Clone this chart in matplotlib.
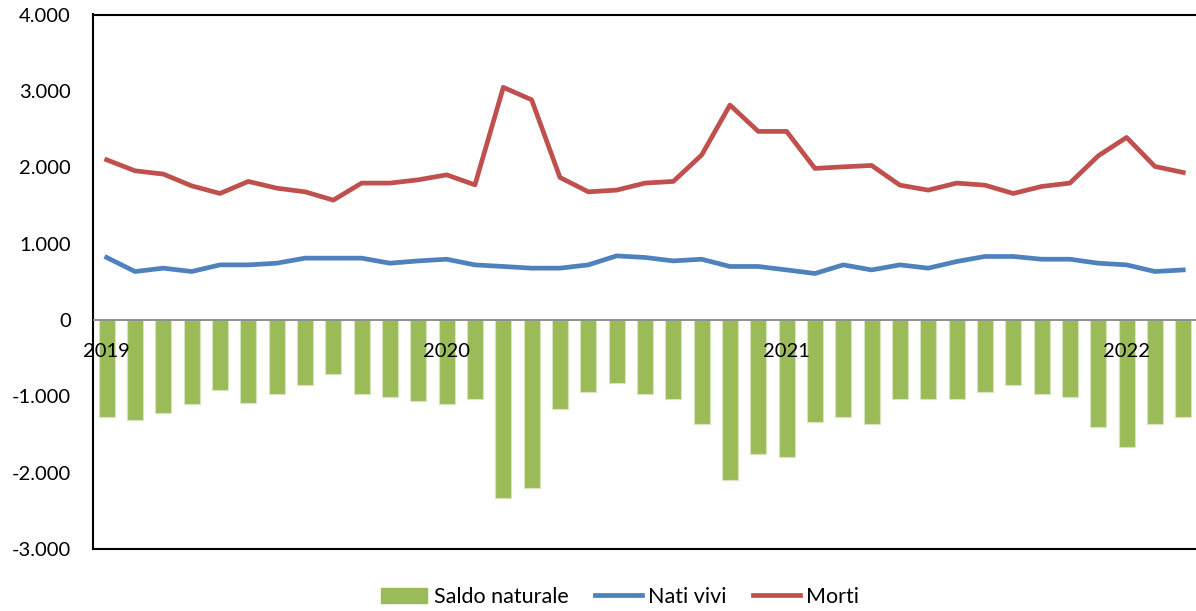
import matplotlib
matplotlib.use("Agg")
import matplotlib.pyplot as plt
import numpy as np
from matplotlib.lines import Line2D
from matplotlib.patches import Patch

plt.rcParams['font.family'] = ['Lato', 'DejaVu Sans']

months = list(range(39))  # Jan 2019 .. Mar 2022
year_labels = {0: "2019", 12: "2020", 24: "2021", 36: "2022"}

saldo_naturale = [-1266, -1311, -1219, -1105, -917, -1083, -965, -852, -708, -965,
                  -1009, -1057, -1105, -1030, -2333, -2197, -1170, -939, -821, -965,
                  -1030, -1358, -2101, -1751, -1799, -1337, -1266, -1358, -1030, -1030,
                  -1030, -939, -847, -965, -1009, -1402, -1659, -1358, -1266]
nati_vivi = [818, 634, 678, 634, 721, 721, 743, 809, 809, 809,
             743, 773, 795, 721, 700, 678, 678, 721, 839, 818,
             773, 795, 700, 700, 655, 608, 721, 655, 721, 678,
             765, 831, 831, 795, 795, 743, 721, 634, 655]
morti = [2097, 1953, 1910, 1756, 1656, 1814, 1726, 1678, 1569, 1792,
         1792, 1835, 1900, 1769, 3046, 2883, 1866, 1678, 1700, 1792,
         1814, 2159, 2814, 2469, 2469, 1984, 2005, 2023, 1765, 1700,
         1792, 1765, 1656, 1748, 1792, 2149, 2390, 2010, 1931]

yticks = [4000, 3000, 2000, 1000, 0, -1000, -2000, -3000]
ytick_labels = ["4.000", "3.000", "2.000", "1.000", "0", "-1.000", "-2.000", "-3.000"]

GREEN = "#9BBB59"
BLUE = "#4F81BD"
RED = "#C0504D"

W, H = 1196, 611
fig = plt.figure(figsize=(W / 100, H / 100), dpi=100)
left, right = 92.5, 1197.4
top, bottom = 14.5, 549
ax = fig.add_axes([left / W, 1 - bottom / H, (right - left) / W, (bottom - top) / H])

x = np.array(months)
ax.bar(x, saldo_naturale, width=0.56, color=GREEN, edgecolor="#D7E4BD", linewidth=0.8, zorder=2)
ax.axhline(0, color="#868686", linewidth=1.3, zorder=3)
ax.plot(x, nati_vivi, color=BLUE, linewidth=3.4, solid_joinstyle="round", zorder=4)
ax.plot(x, morti, color=RED, linewidth=3.4, solid_joinstyle="round", zorder=4)

ax.set_xlim(-0.5, 38.5)
ax.set_ylim(-3000, 4000)
ax.set_yticks(yticks)
ax.set_yticklabels(ytick_labels, fontsize=14.5)
ax.tick_params(axis='y', length=0, pad=15.5)
ax.set_xticks([])

for i, lab in year_labels.items():
    ax.text(i, -420, lab, ha="center", va="center", fontsize=14.5, zorder=5)

for s in ["left", "top", "bottom"]:
    ax.spines[s].set_color("black")
    ax.spines[s].set_linewidth(1.5)
ax.spines["right"].set_visible(False)

handles = [Patch(facecolor=GREEN, edgecolor=GREEN),
           Line2D([0], [0], color=BLUE, linewidth=3.4),
           Line2D([0], [0], color=RED, linewidth=3.4)]
fig.legend(handles, ["Saldo naturale", "Nati vivi", "Morti"],
           loc="center", bbox_to_anchor=(620 / W, 1 - 597 / H),
           ncol=3, frameon=False, fontsize=15.5, handlelength=2.15,
           handletextpad=0.3, columnspacing=1.25, handleheight=0.75)

fig.savefig("out.png", dpi=100)
